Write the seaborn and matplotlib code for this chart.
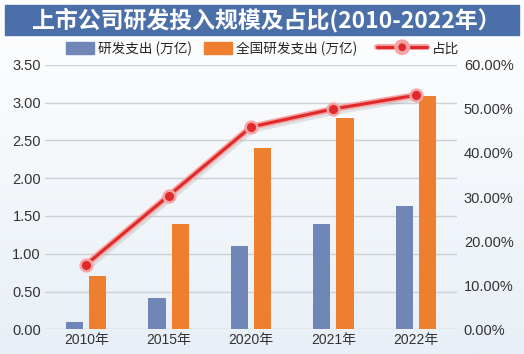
import numpy as np
import pandas as pd
import seaborn as sns
import matplotlib.pyplot as plt
import matplotlib.patheffects as pe
from matplotlib.patches import Patch, Rectangle
from matplotlib.lines import Line2D
from matplotlib.colors import LinearSegmentedColormap

# 数据
years = ['2010年', '2015年', '2020年', '2021年', '2022年']
listed_rd = [0.09, 0.41, 1.10, 1.40, 1.63]
national_rd = [0.71, 1.40, 2.40, 2.79, 3.09]
share = [14.7, 30.3, 45.9, 50.0, 53.1]
series_names = ['研发支出 (万亿)', '全国研发支出 (万亿)']
line_name = '占比'
title = '上市公司研发投入规模及占比(2010-2022年）'

df = pd.DataFrame({
    '年份': years * 2,
    '系列': [series_names[0]] * len(years) + [series_names[1]] * len(years),
    '金额': listed_rd + national_rd,
})
df_share = pd.DataFrame({'年份': years, '占比': share})

sns.set_theme(style='white')
plt.rcParams['font.family'] = ['Liberation Sans', 'Noto Sans CJK SC', 'DejaVu Sans']

blue, orange, red, pink = '#6f86b6', '#ee7f2e', '#e02a2a', '#f4a4a4'

fig = plt.figure(figsize=(5.24, 3.54), dpi=100)

# 背景渐变
bg = fig.add_axes([0, 0, 1, 1], zorder=-10)
cmap = LinearSegmentedColormap.from_list('bg', ['#ffffff', '#e8eff6'])
bg.imshow(np.linspace(0, 1, 256).reshape(-1, 1), cmap=cmap, aspect='auto', extent=[0, 1, 0, 1])
bg.axis('off')

# 标题栏
fig.patches.append(Rectangle((5 / 524, 1 - 35 / 354), 514 / 524, 30 / 354,
                             transform=fig.transFigure, color='#4b6fa8', zorder=-5))
fig.text(0.508, 1 - 20 / 354, title, color='white', fontsize=16.5, fontweight='bold',
         ha='center', va='center', family=['Noto Sans CJK SC', 'DejaVu Sans'])

# 柱状图
ax = fig.add_axes([0.086, 0.0698, 0.786, 0.747])
ax.patch.set_alpha(0)
sns.barplot(data=df, x='年份', y='金额', hue='系列', palette=[blue, orange], saturation=1,
            width=0.56, gap=0.25, linewidth=0, ax=ax, legend=False)
ax.set_xlim(-0.5, len(years) - 0.5)
ax.set_ylim(0, 3.5)
yt = np.arange(0, 3.51, 0.5)
ax.set_yticks(yt)
ax.set_yticklabels([f'{v:.2f}' for v in yt])
ax.yaxis.grid(True, color='#cdd1d6', linewidth=1)
ax.set_axisbelow(True)
ax.set_xlabel('')
ax.set_ylabel('')
for s in ax.spines.values():
    s.set_visible(False)
ax.tick_params(axis='both', length=0, labelsize=10.5, colors='#333333')
ax.tick_params(axis='y', pad=3)
ax.tick_params(axis='x', pad=3, labelsize=10)

# 折线（占比）
ax2 = ax.twinx()
sns.lineplot(data=df_share, x='年份', y='占比', sort=False, color=red, linewidth=2.2, ax=ax2)
ax2.lines[0].set_path_effects([
    pe.SimpleLineShadow(offset=(1.5, -3), shadow_color='#999999', alpha=0.25),
    pe.Stroke(linewidth=4.6, foreground=pink), pe.Normal()])
sns.scatterplot(data=df_share, x='年份', y='占比', color=red, s=70, edgecolor=pink,
                linewidth=1.8, zorder=5, ax=ax2)
ax2.set_ylim(0, 60)
yt2 = np.arange(0, 60.1, 10)
ax2.set_yticks(yt2)
ax2.set_yticklabels([f'{v:.2f}%' for v in yt2])
ax2.set_ylabel('')
ax2.grid(False)
for s in ax2.spines.values():
    s.set_visible(False)
ax2.tick_params(axis='y', length=0, labelsize=10.5, colors='#333333', pad=5)

# 图例（三个单独放置，间距与原图一致）
handles = [Patch(color=blue), Patch(color=orange),
           Line2D([], [], color=red, linewidth=2.2, marker='o', markersize=7,
                  markerfacecolor=red, markeredgecolor=pink, markeredgewidth=1.4,
                  path_effects=[pe.Stroke(linewidth=4.4, foreground=pink), pe.Normal()])]
labels = series_names + [line_name]
legend_x = [66, 204, 377]
legend_len = [2.06, 2.06, 3.7]
for h, lab, x0, hl in zip(handles, labels, legend_x, legend_len):
    fig.legend([h], [lab], loc='center left', bbox_to_anchor=(x0 / 524, 1 - 48.5 / 354),
               frameon=False, borderpad=0, borderaxespad=0, handlelength=hl,
               handleheight=0.95, handletextpad=0.3,
               prop={'family': ['Noto Sans CJK SC', 'DejaVu Sans'], 'size': 9.8})

fig.savefig('out.png', dpi=100)
plt.close()
